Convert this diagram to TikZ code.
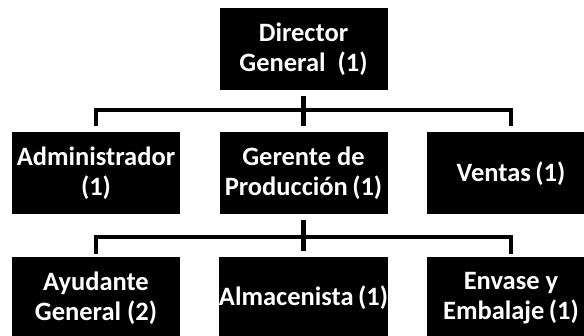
\documentclass[tikz,border=0pt]{standalone}
\usepackage{fontspec}
\setmainfont{Carlito}
\usepackage[]{tikz}
\usetikzlibrary{calc}
\tikzset{puesto/.style={fill=black,text=white,minimum width=168pt,minimum height=82pt,inner sep=0pt,align=center,font=\bfseries\fontsize{26.5}{30}\selectfont}}
\tikzset{linea/.style={line width=4pt,line join=miter}}
\begin{document}
\begin{tikzpicture}[x=1pt,y=-1pt] % unidades en pt, y hacia abajo
            \useasboundingbox (0,0) rectangle (584,336);
            \node[puesto] (dir) at (303.5,49) {Director\\General~~(1)};
            \node[puesto] (adm) at (96,173.5) {Administrador\\(1)};  % segundo nivel
            \node[puesto] (ger) at (303.5,173.5) {Gerente de\\Producción\,(1)};
            \node[puesto] (ven) at (511,173.5) {Ventas\,(1)};
            \node[puesto] (ayu) at (96,298) {Ayudante\\General (2)};  % tercer nivel
            \node[puesto] (alm) at (303.5,298) {Almacenista\,(1)};
            \node[puesto] (env) at (511,298) {Envase y\\Embalaje\,(1)};
            \coordinate (b1) at (303.5,110);
            \coordinate (b2) at (303.5,237);
            \draw[linea] ($(adm.north)+(0,-6)$) |- (b1) -| ($(ven.north)+(0,-6)$);
            \draw[linea,line width=5pt,shorten <=6pt,shorten >=6pt] (dir) -- (ger);
            \draw[linea] ($(ayu.north)+(0,-3)$) |- (b2) -| ($(env.north)+(0,-3)$);
            \draw[linea,line width=5pt,shorten <=5pt,shorten >=6pt] (ger) -- (alm);
        \end{tikzpicture}
\end{document}
